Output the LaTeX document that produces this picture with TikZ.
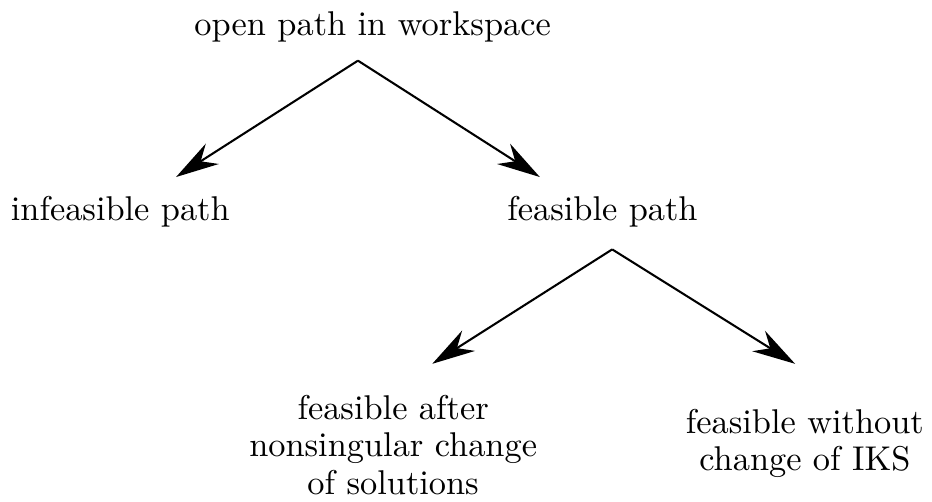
\documentclass[tikz,border=0pt]{standalone}
\usetikzlibrary{arrows.meta}
\tikzset{
  leaf/.style={align=center, font=\fontsize{10}{10.8}\selectfont, inner sep=0pt},
  branch/.style={semithick, -{Stealth[length=12.5pt, width=7pt, inset=4pt]}}
}
\begin{document}
\begin{tikzpicture}
\useasboundingbox (0,0) rectangle (9.53,-5.13);
\node[leaf] (open) at (3.81,-0.27) {open path in workspace};
\node[leaf] (infeasible) at (1.23,-2.16) {infeasible path};
\node[leaf] (feasible) at (6.16,-2.16) {feasible path};
\node[leaf] (after) at (4.02,-4.55) {feasible after\\ nonsingular change\\ of solutions};
\node[leaf] (without) at (8.23,-4.53) {feasible without\\ change of IKS};

\coordinate (split1) at (3.66,-0.62);
\coordinate (split2) at (6.26,-2.55);
\coordinate (tipA) at (1.80,-1.81);
\coordinate (tipB) at (5.52,-1.81);
\coordinate (tipC) at (4.42,-3.72);
\coordinate (tipD) at (8.13,-3.72);

\draw[branch] (split1) -- (tipA);
\draw[branch] (split1) -- (tipB);
\draw[branch] (split2) -- (tipC);
\draw[branch] (split2) -- (tipD);
\end{tikzpicture}
\end{document}
